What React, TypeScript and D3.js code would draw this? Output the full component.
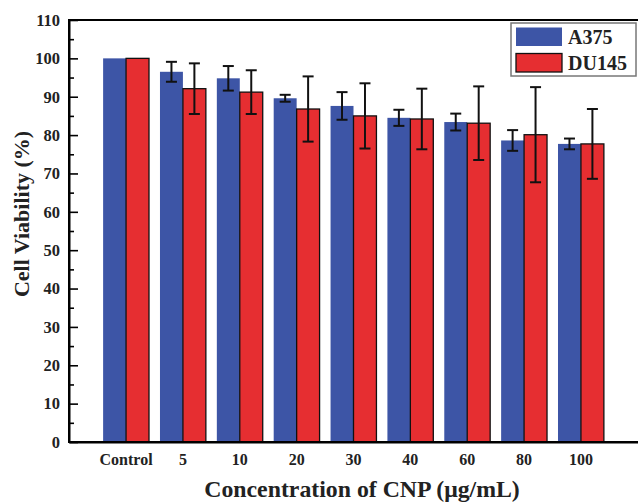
import React, { useRef, useEffect } from 'react';
import * as d3 from 'd3';

const categories = ['Control', '5', '10', '20', '30', '40', '60', '80', '100'];
const seriesNames = ['A375', 'DU145'];
const a375 = [100, 96.5, 94.8, 89.6, 87.6, 84.5, 83.4, 78.6, 77.7];
const a375Err = [0, 2.6, 3.2, 0.9, 3.6, 2.1, 2.2, 2.7, 1.4];
const du145 = [100, 92.1, 91.2, 86.8, 85.0, 84.2, 83.1, 80.1, 77.7];
const du145Err = [0, 6.6, 5.7, 8.5, 8.5, 7.9, 9.6, 12.4, 9.1];
const yMajor = [0, 10, 20, 30, 40, 50, 60, 70, 80, 90, 100, 110];
const yMinor = [5, 15, 25, 35, 45, 55, 65, 75, 85, 95, 105];

const W = 638;
const H = 502;
const font = '"Liberation Serif", "Times New Roman", serif';
const colors = ['#3d55a6', '#e62e31'];

const App = () => {
  const svgRef = useRef<SVGSVGElement>(null);

  useEffect(() => {
    const svg = d3.select(svgRef.current);
    svg.selectAll('*').remove();

    const margin = { top: 20, right: 0, bottom: 60, left: 69 };
    const x = d3.scaleBand<string>()
      .domain(categories)
      .range([margin.left, W - margin.right])
      .paddingInner(0.193)
      .paddingOuter(0.6);
    const xSub = d3.scaleBand<string>()
      .domain(seriesNames)
      .range([0, x.bandwidth()]);
    const y = d3.scaleLinear()
      .domain([0, 110])
      .range([H - margin.bottom, margin.top]);

    const rows = categories.map((c, i) => ({
      cat: c,
      vals: [
        { key: 'A375', v: a375[i], e: a375Err[i] },
        { key: 'DU145', v: du145[i], e: du145Err[i] },
      ],
    }));

    const g = svg.append('g');

    // bars
    const groups = g.selectAll('g.grp').data(rows).join('g')
      .attr('class', 'grp')
      .attr('transform', d => `translate(${x(d.cat)},0)`);

    groups.selectAll('rect').data(d => d.vals).join('rect')
      .attr('x', d => xSub(d.key)!)
      .attr('y', d => y(d.v))
      .attr('width', xSub.bandwidth())
      .attr('height', d => y(0) - y(d.v))
      .attr('fill', (d, i) => colors[i])
      .attr('stroke', (d, i) => (i === 1 ? '#111' : 'none'))
      .attr('stroke-width', 1.3);

    // error bars
    const cap = 5.5;
    const eb = groups.selectAll('g.err').data(d => d.vals.filter(v => v.e > 0)).join('g')
      .attr('class', 'err')
      .attr('stroke', '#111')
      .attr('stroke-width', 2)
      .attr('transform', d => `translate(${xSub(d.key)! + xSub.bandwidth() / 2},0)`);
    eb.append('line').attr('x1', 0).attr('x2', 0)
      .attr('y1', d => y(d.v + d.e)).attr('y2', d => y(d.v - d.e));
    eb.append('line').attr('x1', -cap).attr('x2', cap)
      .attr('y1', d => y(d.v + d.e)).attr('y2', d => y(d.v + d.e));
    eb.append('line').attr('x1', -cap).attr('x2', cap)
      .attr('y1', d => y(d.v - d.e)).attr('y2', d => y(d.v - d.e));

    // frame
    g.append('rect')
      .attr('x', margin.left).attr('y', margin.top)
      .attr('width', W + 2 - margin.left).attr('height', y(0) - margin.top)
      .attr('fill', 'none').attr('stroke', '#000').attr('stroke-width', 2);

    // y axis
    const yAxis = g.append('g')
      .attr('transform', `translate(${margin.left},0)`)
      .call(d3.axisLeft(y).tickValues(yMajor).tickSize(-9).tickPadding(9).tickSizeOuter(0));
    yAxis.select('.domain').attr('stroke-width', 2);
    yAxis.selectAll('.tick line').attr('stroke-width', 1.6);
    yAxis.selectAll('.tick text')
      .style('font-family', font).style('font-size', '16.5px').style('font-weight', 'bold').attr('fill', '#222');
    const yMin = g.append('g')
      .attr('transform', `translate(${margin.left},0)`)
      .call(d3.axisLeft(y).tickValues(yMinor).tickSize(-5).tickFormat(() => '').tickSizeOuter(0));
    yMin.select('.domain').remove();
    yMin.selectAll('.tick line').attr('stroke-width', 1.6);

    // x axis
    const xAxis = g.append('g')
      .attr('transform', `translate(0,${y(0)})`)
      .call(d3.axisBottom(x).tickSize(0).tickPadding(11.5).tickSizeOuter(0));
    xAxis.select('.domain').attr('stroke-width', 2);
    xAxis.selectAll('.tick text')
      .style('font-family', font).style('font-size', '16px').style('font-weight', 'bold').attr('fill', '#222');

    // axis titles
    g.append('text')
      .attr('x', 362).attr('y', 497)
      .attr('text-anchor', 'middle')
      .style('font-family', font).style('font-size', '23.8px').style('font-weight', 'bold').attr('fill', '#222')
      .text('Concentration of CNP (μg/mL)');
    g.append('text')
      .attr('transform', 'translate(29,214) rotate(-90)')
      .attr('text-anchor', 'middle')
      .style('font-family', font).style('font-size', '22px').style('font-weight', 'bold').attr('fill', '#222')
      .text('Cell Viability (%)');

    // legend
    const lg = g.append('g').attr('transform', 'translate(511,23)');
    lg.append('rect').attr('width', 125).attr('height', 53)
      .attr('fill', '#fff').attr('stroke', '#777').attr('stroke-width', 1.5);
    seriesNames.forEach((s, i) => {
      lg.append('rect')
        .attr('x', 5).attr('y', 4.5 + i * 26)
        .attr('width', 46).attr('height', 18.5)
        .attr('fill', colors[i])
        .attr('stroke', i === 1 ? '#111' : 'none').attr('stroke-width', 1.3);
      lg.append('text')
        .attr('x', 57).attr('y', 21 + i * 26)
        .style('font-family', font).style('font-size', '20px').style('font-weight', 'bold').attr('fill', '#222')
        .text(s);
    });
  }, []);

  return (
    <svg ref={svgRef} width={W} height={H}
      style={{ position: 'absolute', left: 0, top: 0, background: '#fff' }} />
  );
};

export default App;
